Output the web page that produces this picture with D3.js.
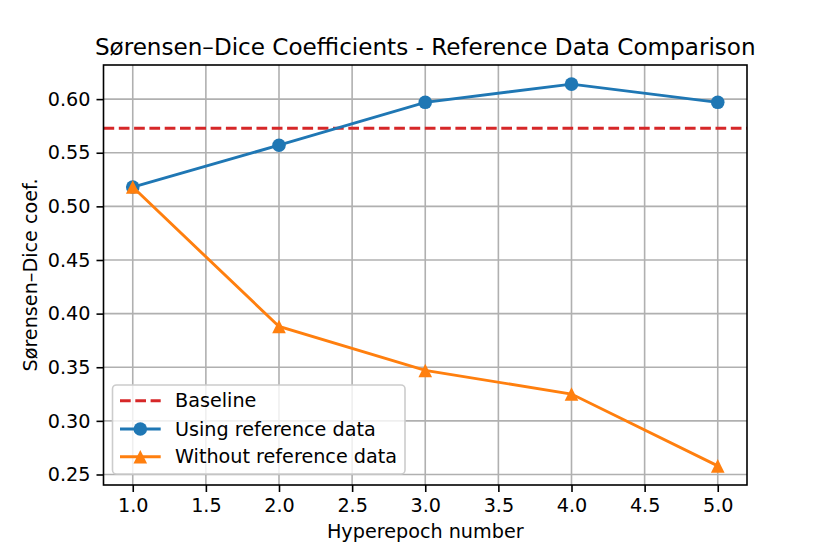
<!DOCTYPE html>
<html><head><meta charset="utf-8">
<script src="https://cdn.jsdelivr.net/npm/d3@7"></script>
<style>body{margin:0;background:#fff}svg{display:block;font-family:"DejaVu Sans",sans-serif}</style>
</head><body><svg id="c" width="830" height="554"></svg>
<script>
const epochs = [1, 2, 3, 4, 5];
const usingRef = [0.518, 0.557, 0.597, 0.614, 0.597];
const withoutRef = [0.518, 0.388, 0.347, 0.325, 0.258];
const baseline = 0.5728;
const xTicks = [1.0, 1.5, 2.0, 2.5, 3.0, 3.5, 4.0, 4.5, 5.0];
const yTicks = [0.25, 0.30, 0.35, 0.40, 0.45, 0.50, 0.55, 0.60];
const titleText = "Sørensen–Dice Coefficients - Reference Data Comparison";
const xLabel = "Hyperepoch number";
const yLabel = "Sørensen–Dice coef.";
const legendLabels = ["Baseline", "Using reference data", "Without reference data"];

const svg = d3.select("#c");
const L = 103.5, R = 747, T = 65, B = 485;
const x = d3.scaleLinear().domain([0.8, 5.2]).range([L, R]);
const y = d3.scaleLinear().domain([0.2402, 0.6318]).range([B, T]);
const fs = 19.2;
const mr = 6.8;
const triPath = `M0,${-mr}L${mr},${mr}L${-mr},${mr}Z`;

// grid
const g = svg.append("g");
g.selectAll(".gx").data(xTicks).join("line")
  .attr("x1", d => x(d)).attr("x2", d => x(d)).attr("y1", T).attr("y2", B)
  .attr("stroke", "#b0b0b0").attr("stroke-width", 1.6);
g.selectAll(".gy").data(yTicks).join("line")
  .attr("y1", d => y(d)).attr("y2", d => y(d)).attr("x1", L).attr("x2", R)
  .attr("stroke", "#b0b0b0").attr("stroke-width", 1.6);

// axes
const xAxis = d3.axisBottom(x).tickValues(xTicks).tickFormat(d3.format(".1f")).tickSizeInner(7).tickSizeOuter(0).tickPadding(6);
const yAxis = d3.axisLeft(y).tickValues(yTicks).tickFormat(d3.format(".2f")).tickSizeInner(7).tickSizeOuter(0).tickPadding(6);
const gx = svg.append("g").attr("transform", `translate(0,${B})`).call(xAxis);
const gy = svg.append("g").attr("transform", `translate(${L},0)`).call(yAxis);
[gx, gy].forEach(a => {
  a.select(".domain").remove();
  a.selectAll(".tick line").attr("stroke", "#000").attr("stroke-width", 1.6);
  a.selectAll(".tick text").attr("fill", "#000").style("font-size", fs + "px").style("font-family", "DejaVu Sans");
});

// baseline
svg.append("line").attr("x1", L).attr("x2", R).attr("y1", y(baseline)).attr("y2", y(baseline))
  .attr("stroke", "#d62728").attr("stroke-width", 2.9).attr("stroke-dasharray", "10.7,4.6");

const line = d3.line().x((d, i) => x(epochs[i])).y(d => y(d));
svg.append("path").datum(usingRef).attr("d", line).attr("fill", "none").attr("stroke", "#1f77b4").attr("stroke-width", 2.9);
svg.selectAll(".c1").data(usingRef).join("circle").attr("cx", (d, i) => x(epochs[i])).attr("cy", d => y(d)).attr("r", mr).attr("fill", "#1f77b4");
svg.append("path").datum(withoutRef).attr("d", line).attr("fill", "none").attr("stroke", "#ff7f0e").attr("stroke-width", 2.9);
svg.selectAll(".t1").data(withoutRef).join("path").attr("d", triPath)
  .attr("transform", (d, i) => `translate(${x(epochs[i])},${y(d)})`).attr("fill", "#ff7f0e");

// spines
svg.append("rect").attr("x", L).attr("y", T).attr("width", R - L).attr("height", B - T)
  .attr("fill", "none").attr("stroke", "#000").attr("stroke-width", 1.6);

// legend
const lg = svg.append("g");
lg.append("rect").attr("x", 112.5).attr("y", 385).attr("width", 292.5).attr("height", 89).attr("rx", 4)
  .attr("fill", "rgba(255,255,255,0.8)").attr("stroke", "#cccccc").attr("stroke-width", 1.6);
const ly = [400.7, 429, 456.7];
lg.append("line").attr("x1", 120).attr("x2", 160.7).attr("y1", ly[0]).attr("y2", ly[0]).attr("stroke", "#d62728").attr("stroke-width", 2.9).attr("stroke-dasharray", "10.7,4.6");
lg.append("line").attr("x1", 120).attr("x2", 160.7).attr("y1", ly[1]).attr("y2", ly[1]).attr("stroke", "#1f77b4").attr("stroke-width", 2.9);
lg.append("circle").attr("cx", 140.3).attr("cy", ly[1]).attr("r", mr).attr("fill", "#1f77b4");
lg.append("line").attr("x1", 120).attr("x2", 160.7).attr("y1", ly[2]).attr("y2", ly[2]).attr("stroke", "#ff7f0e").attr("stroke-width", 2.9);
lg.append("path").attr("d", triPath).attr("transform", `translate(140.3,${ly[2]})`).attr("fill", "#ff7f0e");
legendLabels.forEach((t, i) => {
  lg.append("text").attr("x", 175).attr("y", ly[i]).attr("dy", "0.35em").style("font-size", fs + "px").text(t);
});

// labels
svg.append("text").attr("x", (L + R) / 2).attr("y", 55).attr("text-anchor", "middle").style("font-size", "23.1px").text(titleText);
svg.append("text").attr("x", (L + R) / 2).attr("y", 538).attr("text-anchor", "middle").style("font-size", fs + "px").text(xLabel);
svg.append("text").attr("transform", `translate(37,${(T + B) / 2}) rotate(-90)`).attr("text-anchor", "middle").style("font-size", fs + "px").text(yLabel);
</script></body></html>
